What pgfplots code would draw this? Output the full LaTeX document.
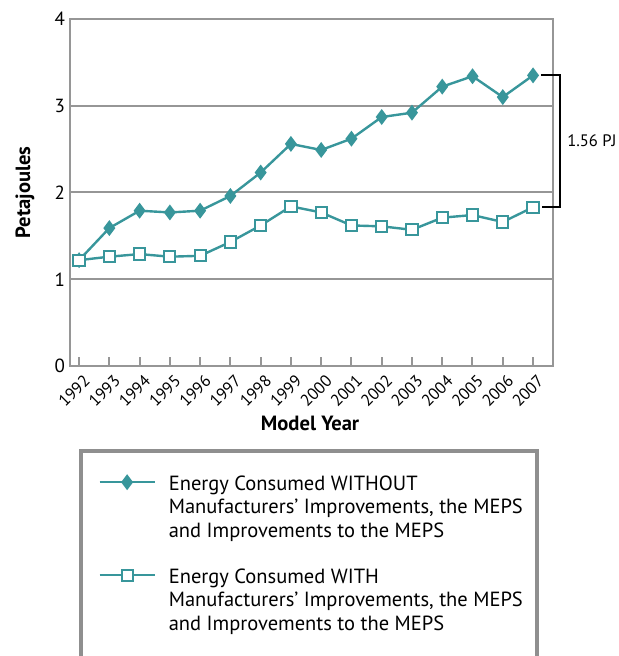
\documentclass[border=0pt]{standalone}
\usepackage{pgfplots}
\pgfplotsset{compat=1.18}
\usepackage{fontspec}
\setmainfont{PT Sans}
\definecolor{tealc}{RGB}{56,150,155}
\definecolor{gridg}{RGB}{150,150,150}
\begin{document}
\begin{tikzpicture}
\path[use as bounding box] (-35pt,-145pt) rectangle (274pt,183pt);
\begin{axis}[
  at={(0pt,0pt)}, anchor=south west,
  scale only axis, width=241.5pt, height=173.5pt,
  xmin=1991.70, xmax=2007.66, ymin=0, ymax=4,
  clip=false,
  axis line style={gridg, line width=1pt},
  xtick={1992,...,2007},
  ytick={0,1,2,3,4},
  ymajorgrids, grid style={gridg, line width=1pt},
  xtick pos=bottom, tick align=inside, major tick length=4.5pt,
  xtick style={gridg, line width=1pt},
  ytick style={draw=none},
  /pgf/number format/assume math mode=true,
  /pgf/number format/1000 sep={},
  yticklabel style={font=\fontsize{9.5}{11}\selectfont, xshift=1pt},
  xticklabel style={font=\fontsize{8.3}{10}\selectfont, rotate=45, anchor=north east, xshift=2pt, yshift=-0.5pt},
  xlabel={\textbf{Model Year}}, ylabel={\textbf{Petajoules}},
  every axis x label/.style={at={(axis description cs:0.497,0)}, anchor=center, yshift=-28.5pt, font=\fontsize{10.3}{12}\selectfont},
  every axis y label/.style={at={(axis description cs:0,0.5)}, rotate=90, anchor=center, yshift=22.5pt, font=\fontsize{10.3}{12}\selectfont},
  legend style={at={(axis description cs:0.058,-0.302)}, anchor=north west, draw=none, fill=none,
    inner sep=0pt, font=\fontsize{10.25}{11.75}\selectfont, row sep=10pt, column sep=4.5pt,
    cells={anchor=north west, align=left}},
  legend image code/.code={\draw[mark repeat=2,mark phase=2,#1] plot coordinates {(0pt,-5.5pt) (13.75pt,-5.5pt) (27.5pt,-5.5pt)};},
]
\addplot[tealc, line width=1.2pt, mark=diamond*, mark size=3pt, mark options={fill=tealc}] coordinates {
(1992,1.22) (1993,1.59) (1994,1.79) (1995,1.77) (1996,1.79) (1997,1.96) (1998,2.23) (1999,2.56)
(2000,2.49) (2001,2.62) (2002,2.87) (2003,2.92) (2004,3.22) (2005,3.34) (2006,3.10) (2007,3.35)};
\addlegendentry{Energy Consumed WITHOUT\\Manufacturers’ Improvements, the MEPS\\and Improvements to the MEPS}
\addplot[tealc, line width=1.2pt, mark=square*, mark size=2.8pt, mark options={fill=white, line width=1pt}] coordinates {
(1992,1.22) (1993,1.26) (1994,1.29) (1995,1.26) (1996,1.27) (1997,1.43) (1998,1.62) (1999,1.84)
(2000,1.77) (2001,1.62) (2002,1.61) (2003,1.57) (2004,1.71) (2005,1.74) (2006,1.66) (2007,1.83)};
\addlegendentry{Energy Consumed WITH\\Manufacturers’ Improvements, the MEPS\\and Improvements to the MEPS}
\draw[black, line width=1pt] (axis cs:2007.26,3.35) -- (axis cs:2007.89,3.35) -- (axis cs:2007.89,1.83) -- (axis cs:2007.29,1.83);
\node[anchor=west, font=\fontsize{8.3}{10}\selectfont] at (axis cs:2007.90,2.60) {1.56 PJ};
\end{axis}
\draw[gridg!95!black, line width=2pt] (5.3pt,-150pt) -- (5.3pt,-42.3pt) -- (233.3pt,-42.3pt) -- (233.3pt,-150pt);
\end{tikzpicture}
\end{document}
